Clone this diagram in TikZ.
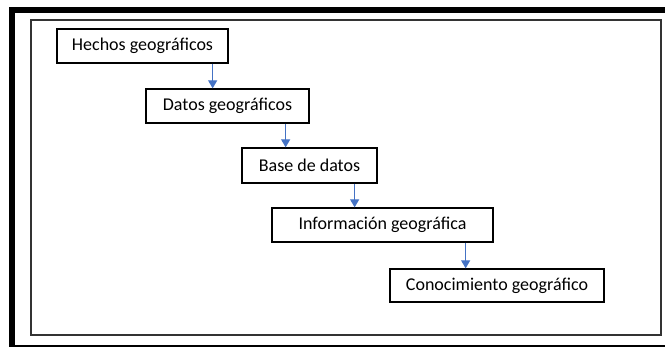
\documentclass[tikz,border=0pt]{standalone}
\usepackage{fontspec}
\setmainfont{Carlito}
\usetikzlibrary{arrows.meta}

\begin{document}
\begin{tikzpicture}[
    x=1pt, y=-1pt,
    every node/.style={font=\fontsize{18}{20}\selectfont},
    paso/.style={draw, line width=1.3pt, minimum height=34pt, inner sep=0pt},
    flow/.style={draw=flowblue, line width=1.2pt, -{Triangle[width=9pt, length=8pt]}}
]
    \definecolor{flowblue}{HTML}{4472C4}
    \useasboundingbox (0,0) rectangle (665,346);
    \clip (0,0) rectangle (665,346);
    % frames
    \draw[line width=6pt] (12,10) rectangle (690,348);
    \draw[line width=1.5pt, black!80] (31,20) rectangle (661,335);

    \node[paso, minimum width=171pt] (hechos) at (142.5,46)  {Hechos geográficos};
    \node[paso, minimum width=163pt] (datos)  at (227.5,106) {Datos geográficos};
    \node[paso, minimum width=135pt, minimum height=35pt] (base) at (309.5,165.5) {Base de datos};
    \node[paso, minimum width=221pt] (info)   at (382.5,225) {Información geográfica};
    \node[paso, minimum width=214pt, minimum height=33pt] (conoc) at (497,285.5) {Conocimiento geográfico};

    \draw[flow] ([xshift=-16pt]hechos.south east) -- ([xshift=-16pt]hechos.south east |- datos.north);
    \draw[flow] ([xshift=-24pt]datos.south east)  -- ([xshift=-24pt]datos.south east |- base.north);
    \draw[flow] ([xshift=-23pt]base.south east)   -- ([xshift=-23pt]base.south east |- info.north);
    \draw[flow] ([xshift=-28pt]info.south east)   -- ([xshift=-28pt]info.south east |- conoc.north);
\end{tikzpicture}
\end{document}
